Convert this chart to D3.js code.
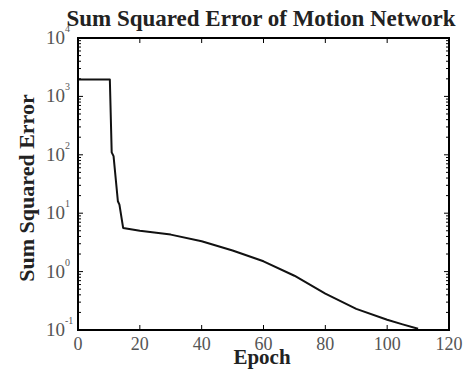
<!DOCTYPE html>
<html lang="en">
<head>
<meta charset="UTF-8" />
<title>Sum Squared Error of Motion Network</title>
<script src="https://cdn.jsdelivr.net/npm/d3@7"></script>
<style>
  body { margin: 0; background: #fff; }
  text { font-family: "Liberation Serif", "Times New Roman", serif; }
</style>
</head>
<body>
<svg width="468" height="369"></svg>
<script>
// values
const epochs = [0, 10.3, 10.9, 11.5, 12.9, 13.4, 14.6, 20, 30, 40, 50, 60, 70, 80, 90, 100, 105, 110];
const sse = [1950, 1950, 110, 95, 16, 14, 5.6, 5.0, 4.3, 3.3, 2.3, 1.5, 0.85, 0.42, 0.23, 0.15, 0.125, 0.105];
const xTicks = [0, 20, 40, 60, 80, 100, 120];
const yExponents = [-1, 0, 1, 2, 3, 4];

const svg = d3.select("svg");
const margin = { left: 78, right: 19, top: 38, bottom: 39 };
const width = 468, height = 369;

const x = d3.scaleLinear().domain([0, 120]).range([margin.left, width - margin.right]);
const y = d3.scaleLog().domain([0.1, 10000]).range([height - margin.bottom, margin.top]);

// minor log ticks
const minor = [];
for (let e = -1; e < 4; e++) for (let k = 2; k < 10; k++) minor.push(k * Math.pow(10, e));

const ticks = svg.append("g").attr("stroke", "#000").attr("stroke-width", 1);
ticks.selectAll(".mnl").data(minor).join("line")
  .attr("x1", x(0)).attr("x2", x(0) + 3)
  .attr("y1", d => y(d)).attr("y2", d => y(d));
ticks.selectAll(".mnr").data(minor).join("line")
  .attr("x1", x(120)).attr("x2", x(120) - 3)
  .attr("y1", d => y(d)).attr("y2", d => y(d));
ticks.selectAll(".myl").data(yExponents).join("line")
  .attr("x1", x(0)).attr("x2", x(0) + 5)
  .attr("y1", d => y(Math.pow(10, d))).attr("y2", d => y(Math.pow(10, d)));
ticks.selectAll(".myr").data(yExponents).join("line")
  .attr("x1", x(120)).attr("x2", x(120) - 5)
  .attr("y1", d => y(Math.pow(10, d))).attr("y2", d => y(Math.pow(10, d)));
ticks.selectAll(".mxb").data(xTicks).join("line")
  .attr("x1", d => x(d)).attr("x2", d => x(d))
  .attr("y1", y(0.1)).attr("y2", y(0.1) - 5);
ticks.selectAll(".mxt").data(xTicks).join("line")
  .attr("x1", d => x(d)).attr("x2", d => x(d))
  .attr("y1", y(10000)).attr("y2", y(10000) + 5);

// data line
const line = d3.line().x((d, i) => x(epochs[i])).y(d => y(d));
svg.append("path")
  .datum(sse)
  .attr("fill", "none")
  .attr("stroke", "#111")
  .attr("stroke-width", 2)
  .attr("stroke-linejoin", "round")
  .attr("d", line);

// box
svg.append("rect")
  .attr("x", x(0)).attr("y", y(10000))
  .attr("width", x(120) - x(0)).attr("height", y(0.1) - y(10000))
  .attr("fill", "none").attr("stroke", "#000").attr("stroke-width", 2);

// x tick labels
svg.append("g").selectAll("text").data(xTicks).join("text")
  .attr("x", d => x(d)).attr("y", y(0.1) + 20)
  .attr("text-anchor", "middle")
  .attr("font-size", 18).attr("fill", "#555")
  .text(d => d);

// y tick labels
const yl = svg.append("g").selectAll("g").data(yExponents).join("g")
  .attr("transform", d => `translate(${x(0) - 8},${y(Math.pow(10, d))})`);
yl.append("text")
  .attr("x", -5).attr("y", 6)
  .attr("text-anchor", "end")
  .attr("font-size", 19).attr("fill", "#555")
  .text("10");
yl.append("text")
  .attr("x", -5).attr("y", -6)
  .attr("font-size", 10).attr("fill", "#555")
  .text(d => d);

// title and axis labels
svg.append("text")
  .attr("x", 261).attr("y", 26)
  .attr("text-anchor", "middle")
  .attr("font-size", 23).attr("font-weight", "bold").attr("fill", "#222")
  .text("Sum Squared Error of Motion Network");

svg.append("text")
  .attr("x", 262).attr("y", 364)
  .attr("text-anchor", "middle")
  .attr("font-size", 21).attr("font-weight", "bold").attr("fill", "#222")
  .text("Epoch");

svg.append("text")
  .attr("transform", "translate(34,188) rotate(-90)")
  .attr("text-anchor", "middle")
  .attr("font-size", 22).attr("font-weight", "bold").attr("fill", "#222")
  .text("Sum Squared Error");
</script>
</body>
</html>
